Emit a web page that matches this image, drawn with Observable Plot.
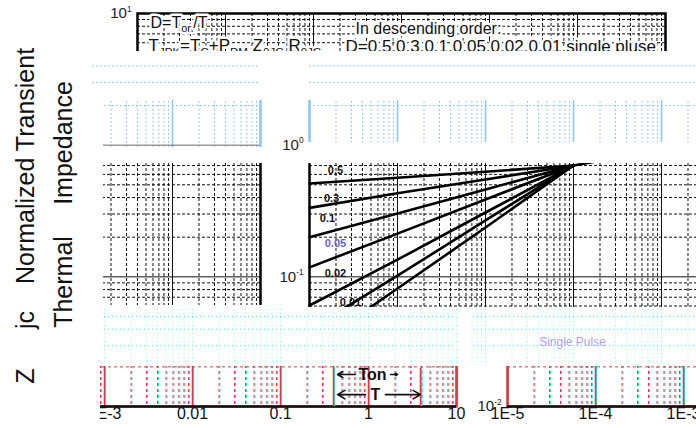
<!DOCTYPE html>
<html>
<head>
<meta charset="utf-8">
<script src="https://cdn.jsdelivr.net/npm/d3@7"></script>
<script src="https://cdn.jsdelivr.net/npm/@observablehq/plot@0.6"></script>
<style>
  html, body { margin: 0; padding: 0; background: #fff; }
  #page { position: relative; width: 696px; height: 428px; overflow: hidden; background: #fff;
          font-family: "Liberation Sans", Arial, sans-serif; }
  .tile { position: absolute; overflow: hidden; }
  .tile svg { position: absolute; max-width: none !important; width: 696px; height: 428px; }
  .ytitle { position: absolute; white-space: pre; font-size: 25px; line-height: 1; color: #111;
            transform: translate(-50%, -50%) rotate(-90deg); }
</style>
</head>
<body>
<div id="page"></div>
<script>
// ---------- data ----------
const times = [1e-5, 1e-4, 1e-3, 1e-2];
const duty = ["0.5", "0.3", "0.1", "0.05", "0.02", "0.01", "single"];
const z05 = [0.512, 0.565, 0.629, 0.701];
const z03 = [0.334, 0.432, 0.549, 0.701];
const z01 = [0.200, 0.303, 0.461, 0.701];
const z005 = [0.118, 0.213, 0.387, 0.701];
const z002 = [0.0606, 0.135, 0.308, 0.701];
const z001 = [0.0398, 0.102, 0.268, 0.701];
const zSingle = [0.0281, 0.0815, 0.237, 0.701];
const tailTimes = [1e-2, 2e-2, 1e-1, 1, 10];
const tailZ = [0.701, 0.76, 0.88, 0.98, 1.0];

const xTicks = [1e-5, 1e-4, 1e-3, 1e-2, 1e-1, 1, 10];
const xTickLabels = ["1E-5", "1E-4", "1E-3", "0.01", "0.1", "1", "10"];
const yTicks = [0.01, 0.1, 1, 10];
const yTickLabels = ["10^{-2}", "10^{-1}", "10^{0}", "10^{1}"];

const curveLabels = ["0.5", "0.3", "0.1", "0.05", "0.02", "0.01"];
const labelT = [1.97e-5, 1.78e-5, 1.6e-5, 1.97e-5, 1.97e-5, 2.92e-5];
const labelZ = [0.642, 0.394, 0.277, 0.179, 0.106, 0.0638];
const singleLabel = "Single Pulse";
const singleT = 9.75e-3, singleZ = 0.0317;

const noteText = ["D=T_{on}/T", "T_{JPK}=T_{C}+P_{DM} Z_{θJC} R_{θJC}", "In descending order:", "D=0.5,0.3,0.1,0.05,0.02,0.01,single pluse"];
const noteT = [1.405e-5, 1.334e-5, 3.0e-3, 2.31e-3];
const noteZ = [8.54, 5.71, 7.69, 5.62];
const noteSize = [16, 17, 16, 17];

const diagramText = ["Ton", "T"];
const diagramTextT = [1.11, 1.2];
const diagramZ = [0.0175, 0.0123];
const arrowFrom = [0.711, 1.78, 0.925, 1.56];
const arrowTo = [0.445, 2.14, 0.445, 3.9];
const arrowRow = [0, 0, 1, 1];
const diagramBars = [0.40, 3.9];

const yTitle = ["Z", "jc", "Normalized Transient", "Thermal", "Impedance"];

// ---------- derived tables ----------
const seriesZ = [z05, z03, z01, z005, z002, z001, zSingle];
const curveRows = seriesZ.flatMap((zs, i) => times.map((t, j) => ({t, z: zs[j], d: duty[i]})));
const tailRows = tailTimes.map((t, i) => ({t, z: tailZ[i]}));
const labelRows = curveLabels.map((s, i) => ({s, t: labelT[i], z: labelZ[i]}));
const noteRows = noteText.map((s, i) => ({s, t: noteT[i], z: noteZ[i], fs: noteSize[i]}));
const arrowRows = arrowFrom.map((a, i) => ({t1: a, t2: arrowTo[i], z: diagramZ[arrowRow[i]]}));
const diagramRows = diagramText.map((s, i) => ({s, t: diagramTextT[i], z: diagramZ[i]}));

const minorX = [], minorY = [];
for (let e = -5; e < 1; e++) for (let k = 2; k <= 9; k++) minorX.push(k * 10 ** e);
for (let e = -2; e < 1; e++) for (let k = 2; k <= 9; k++) minorY.push(k * 10 ** e);

function render(o) {
  const m = [];
  const g = o.grid;
  if (g) {
    if (g.ghost && g.v) {
      m.push(Plot.ruleX(minorX, {stroke: g.ghost, strokeDasharray: g.dash, dx: 1}));
      m.push(Plot.ruleX(xTicks, {stroke: g.ghost, strokeWidth: 1.2, dx: 1}));
    }
    if (g.v) m.push(Plot.ruleX(minorX, {stroke: g.color, strokeDasharray: g.dash, strokeOpacity: g.vOp ?? 1}));
    m.push(Plot.ruleY(minorY, {stroke: g.color, strokeDasharray: g.dash}));
    if (g.v) m.push(Plot.ruleX(xTicks, {stroke: g.decV ?? g.color, strokeWidth: g.decW ?? 1,
      strokeDasharray: g.decDash ?? null, strokeOpacity: g.decOp ?? 1}));
    m.push(Plot.ruleY(yTicks, {stroke: g.decH ?? g.color, strokeWidth: 1, strokeDasharray: g.decDash ?? null}));
  }
  if (o.frame) m.push(Plot.frame({stroke: o.frame, strokeWidth: 2.5}));
  if (o.bottom) m.push(Plot.ruleY([0.01], {stroke: o.bottom, strokeWidth: 2.5}));
  if (o.curves) {
    m.push(Plot.line(curveRows, {x: "t", y: "z", z: "d", stroke: "#000", strokeWidth: 2.6}));
    m.push(Plot.line(tailRows, {x: "t", y: "z", stroke: "#000", strokeWidth: 2.6}));
  }
  if (o.labels) {
    m.push(Plot.text(labelRows.filter(d => d.s !== "0.05"), {x: "t", y: "z", text: "s", fontSize: 11, fontWeight: "bold", fill: "#111"}));
    m.push(Plot.text(labelRows.filter(d => d.s === "0.05"), {x: "t", y: "z", text: "s", fontSize: 11, fontWeight: "bold", fill: "#6b62d8"}));
  }
  if (o.single) {
    m.push(Plot.text([singleLabel], {x: () => singleT, y: () => singleZ, text: d => d, fontSize: 12, fill: "#b4a0e6"}));
  }
  if (o.notes) {
    for (const fs of [16, 17]) {
      m.push(Plot.text(noteRows.filter(d => d.fs === fs), {x: "t", y: "z", text: "s", textAnchor: "start", fontSize: fs, fill: "#111",
        stroke: "#fff", strokeWidth: 5, paintOrder: "stroke"}));
    }
  }
  if (o.yTicks) {
    m.push(Plot.text(yTicks, {y: d => d, frameAnchor: "left", dx: -6, textAnchor: "end",
      text: (d, i) => yTickLabels[i], fontSize: 15, fill: "#222"}));
  }
  if (o.xTicks) {
    m.push(Plot.text(xTicks, {x: d => d, frameAnchor: "bottom", dy: 12,
      text: (d, i) => xTickLabels[i], fontSize: 16, fill: "#111"}));
  }
  if (o.diagram) {
    m.push(Plot.ruleX(diagramBars, {y1: 0.01, y2: 0.0195, stroke: "#37e0e6", strokeWidth: 1.5, dx: 1}));
    m.push(Plot.ruleX(diagramBars, {y1: 0.01, y2: 0.0195, stroke: "#e23a3a", strokeWidth: 1.5}));
    m.push(Plot.arrow(arrowRows, {x1: "t1", x2: "t2", y1: "z", y2: "z", stroke: "#111", strokeWidth: 1.6, headLength: 8}));
    m.push(Plot.text(diagramRows, {x: "t", y: "z", text: "s", fontSize: 16, fontWeight: "bold", fill: "#111"}));
  }
  return Plot.plot({
    width: 696, height: 428,
    marginLeft: 137, marginRight: 31, marginTop: 13, marginBottom: 20,
    x: {type: "log", domain: [1e-5, 10], axis: null},
    y: {type: "log", domain: [0.01, 10], axis: null},
    style: {background: "transparent", fontFamily: "'Liberation Sans', Arial, sans-serif"},
    marks: m
  });
}

function richify(svg) {
  svg.querySelectorAll("text").forEach(el => {
    const s = el.textContent;
    if (!/[\^_]\{/.test(s)) return;
    const fs = parseFloat(getComputedStyle(el).fontSize) || 12;
    const parts = [];
    const re = /([\^_])\{([^}]*)\}/g;
    let last = 0, mm;
    while ((mm = re.exec(s))) {
      if (mm.index > last) parts.push({t: s.slice(last, mm.index), k: ""});
      parts.push({t: mm[2], k: mm[1]});
      last = re.lastIndex;
    }
    if (last < s.length) parts.push({t: s.slice(last), k: ""});
    while (el.firstChild) el.removeChild(el.firstChild);
    let cur = 0;
    for (const p of parts) {
      const shift = p.k === "^" ? -0.45 * fs : p.k === "_" ? 0.3 * fs : 0;
      const ts = document.createElementNS("http://www.w3.org/2000/svg", "tspan");
      ts.textContent = p.t;
      if (shift !== cur) ts.setAttribute("dy", shift - cur);
      if (p.k) ts.setAttribute("font-size", (p.k === "^" ? 0.55 : 0.68) * fs);
      el.appendChild(ts);
      cur = shift;
    }
  });
}

const page = document.getElementById("page");

function tile(r, o) {
  const div = document.createElement("div");
  div.className = "tile";
  Object.assign(div.style, {left: r.x + "px", top: r.y + "px", width: r.w + "px", height: r.h + "px"});
  const svg = render(o);
  svg.style.left = (r.dx - r.x) + "px";
  svg.style.top = ((r.dy || 0) - r.y) + "px";
  svg.style.maxWidth = "none";
  div.appendChild(svg);
  page.appendChild(div);
  richify(svg);
}

const black = {grid: {color: "#111", dash: "3,2", v: true}, frame: "#000", curves: true, labels: true, notes: true, yTicks: true};
const blue = {grid: {color: "#7cb9ef", dash: "1.5,2.5", v: true, decV: "#8ec6f6", decW: 1.5, decH: "#666"}, frame: "#8ec6f6"};
const blueH = {grid: {color: "#7cb9ef", dash: "1.5,2.5", v: false, decH: "#7cb9ef"}};
const cyan = {grid: {color: "#2fe6f2", dash: "1,3", v: true, vOp: 0.45, decDash: "1,3", decOp: 0.6}};
const cyanS = {...cyan, single: true};
const strip = {grid: {color: "#e23a3a", ghost: "#37e0e6", dash: "3,3", v: true, decW: 1.5}, frame: "#e23a3a", bottom: "#111", xTicks: true, yTicks: true, diagram: true};

tile({x: 0, y: 0, w: 696, h: 51, dx: 0}, black);
tile({x: 90, y: 55, w: 172, h: 45, dx: -405}, blueH);
tile({x: 103, y: 100, w: 159, h: 47, dx: -405}, blue);
tile({x: 305, y: 55, w: 391, h: 45, dx: 172}, blueH);
tile({x: 305, y: 100, w: 391, h: 42, dx: 172}, blue);
tile({x: 103, y: 163, w: 159, h: 142, dx: -405}, black);
tile({x: 262, y: 135, w: 43, h: 172, dx: 172}, black);
tile({x: 305, y: 163, w: 391, h: 144, dx: 172}, black);
tile({x: 103, y: 308, w: 367, h: 55, dx: -209}, cyan);
tile({x: 470, y: 308, w: 226, h: 55, dx: 172}, cyanS);
tile({x: 100, y: 366, w: 370, h: 62, dx: -209, dy: -2}, strip);
tile({x: 470, y: 366, w: 226, h: 62, dx: 370, dy: -2}, strip);

const titlePos = [[25, 376], [25, 320], [25, 166], [63, 282], [63, 143]];
yTitle.forEach((s, i) => {
  const d = document.createElement("div");
  d.className = "ytitle";
  d.textContent = s;
  d.style.left = titlePos[i][0] + "px";
  d.style.top = titlePos[i][1] + "px";
  page.appendChild(d);
});
</script>
</body>
</html>
